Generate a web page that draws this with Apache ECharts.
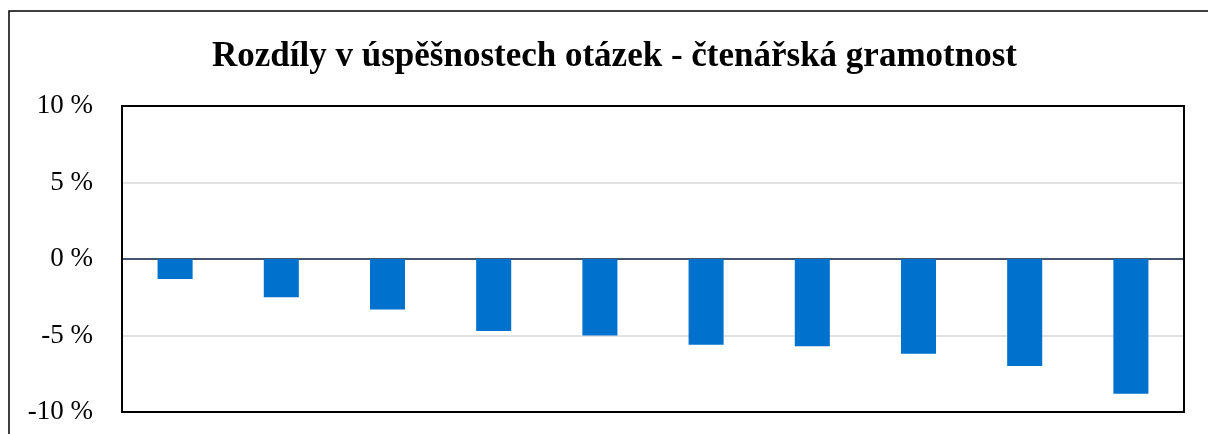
<!DOCTYPE html>
<html>
<head>
<meta charset="utf-8">
<script src="https://cdn.jsdelivr.net/npm/echarts@6/dist/echarts.min.js"></script>
<style>
  html, body { margin: 0; padding: 0; background: #fff; }
  #chart { width: 1208px; height: 434px; }
</style>
</head>
<body>
<div id="chart"></div>
<script>
var titleText = 'Rozdíly v úspěšnostech otázek - čtenářská gramotnost';
var categories = ['1', '2', '3', '4', '5', '6', '7', '8', '9', '10'];
var differences = [-1.3, -2.5, -3.3, -4.7, -5.0, -5.6, -5.7, -6.2, -7.0, -8.8];
var yTicks = { min: -10, max: 10, interval: 5 };

var myChart = echarts.init(document.getElementById('chart'));
var option = {
  animation: false,
  title: {
    text: titleText,
    left: 207,
    top: 34,
    textStyle: {
      fontFamily: 'Liberation Serif',
      fontWeight: 'bold',
      fontSize: 35,
      color: '#000'
    }
  },
  graphic: [{
    type: 'rect',
    shape: { x: 9, y: 11, width: 1220, height: 440 },
    style: { fill: 'none', stroke: '#000', lineWidth: 1.5 },
    silent: true
  }, {
    type: 'rect',
    shape: { x: 122, y: 106, width: 1062, height: 306 },
    style: { fill: 'none', stroke: '#000', lineWidth: 2 },
    silent: true,
    z: 10
  }],
  grid: {
    left: 122,
    top: 106,
    right: 24,
    bottom: 22,
    show: false,
    containLabel: false
  },
  xAxis: {
    type: 'category',
    data: categories,
    axisLine: { show: true, onZero: true, lineStyle: { color: '#44546A', width: 2 } },
    axisTick: { show: false },
    axisLabel: { show: false },
    splitLine: { show: false }
  },
  yAxis: {
    type: 'value',
    min: yTicks.min,
    max: yTicks.max,
    interval: yTicks.interval,
    axisLine: { show: false },
    axisTick: { show: false },
    axisLabel: {
      margin: 29,
      fontFamily: 'Liberation Serif',
      fontSize: 27,
      color: '#000',
      formatter: function (v) { return v + ' %'; }
    },
    splitLine: { show: true, showMinLine: false, showMaxLine: false, lineStyle: { color: '#d9d9d9', width: 1.5 } }
  },
  series: [{
    type: 'bar',
    data: differences,
    barWidth: '33%',
    itemStyle: { color: '#0071CD' }
  }]
};
myChart.setOption(option);
</script>
</body>
</html>
